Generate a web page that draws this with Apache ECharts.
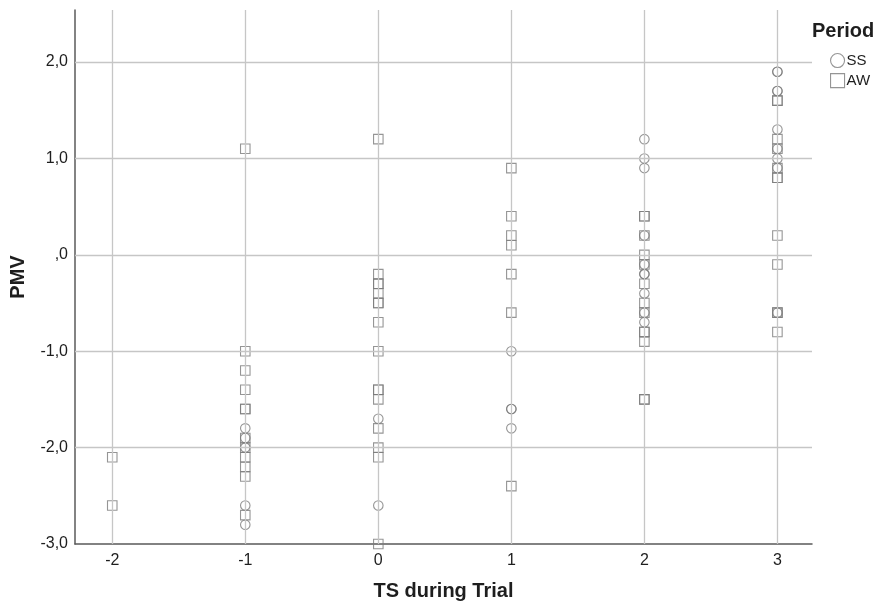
<!DOCTYPE html>
<html>
<head>
<meta charset="utf-8">
<script src="https://cdn.jsdelivr.net/npm/echarts@6/dist/echarts.min.js"></script>
<style>
  html, body { margin: 0; padding: 0; background: #fff; }
  #chart { width: 886px; height: 604px; }
</style>
</head>
<body>
<div id="chart"></div>
<script>
// Thermal sensation (TS) vs predicted mean vote (PMV), per period
const ssTS  = [-1, -1, -1, -1, -1,  0, 0,  1, 1, 1, 1,
               2, 2, 2, 2, 2, 2, 2, 2, 2, 2,
               3, 3, 3, 3, 3, 3, 3, 3, 3];
const ssPMV = [-1.8, -1.9, -2.0, -2.6, -2.8,  -1.7, -2.6,  -1.0, -1.6, -1.6, -1.8,
               1.2, 1.0, 0.9, 0.2, -0.1, -0.2, -0.2, -0.4, -0.6, -0.7,
               1.9, 1.9, 1.7, 1.7, 1.3, 1.1, 1.0, 0.9, -0.6];

const awTS  = [-2, -2,
               -1, -1, -1, -1, -1, -1, -1, -1, -1, -1, -1, -1,
               0, 0, 0, 0, 0, 0, 0, 0, 0, 0, 0, 0, 0, 0, 0, 0,
               1, 1, 1, 1, 1, 1, 1,
               2, 2, 2, 2, 2, 2, 2, 2, 2, 2, 2, 2, 2,
               3, 3, 3, 3, 3, 3, 3, 3, 3, 3, 3, 3];
const awPMV = [-2.1, -2.6,
               1.1, -1.0, -1.2, -1.4, -1.6, -1.6, -1.9, -2.0, -2.1, -2.2, -2.3, -2.7,
               1.2, -0.2, -0.3, -0.3, -0.4, -0.5, -0.5, -0.7, -1.0, -1.4, -1.4, -1.5, -1.8, -2.0, -2.1, -3.0,
               0.9, 0.4, 0.2, 0.1, -0.2, -0.6, -2.4,
               0.4, 0.4, 0.2, 0.0, -0.1, -0.3, -0.5, -0.6, -0.8, -0.8, -0.9, -1.5, -1.5,
               1.6, 1.6, 1.2, 1.1, 0.9, 0.8, 0.8, 0.2, -0.1, -0.6, -0.6, -0.8];

const xTicks = [-2, -1, 0, 1, 2, 3];
const yTicks = [-3, -2, -1, 0, 1, 2];
const periods = ['SS', 'AW'];

const FONT = '"Liberation Sans", Arial, sans-serif';
const MARK = '#7a7a7a';
const GRID = '#c6c6c6';
const TEXT = '#1e1e1e';

const pairs = (xs, ys) => xs.map((x, i) => [x, ys[i]]);

// decimal comma, leading zero dropped for 0
function fmtY(v) {
  if (v === 0) return ',0';
  return v.toFixed(1).replace('.', ',');
}

// grid lines drawn at the integer ticks only
const gridLines = xTicks.map(v => ({ xAxis: v }))
  .concat(yTicks.filter(v => v !== yTicks[0]).map(v => ({ yAxis: v })));

const hollow = { color: 'rgba(255,255,255,0)', borderColor: MARK, borderWidth: 1.1 };

const chart = echarts.init(document.getElementById('chart'), null, { renderer: 'canvas' });
chart.setOption({
  animation: false,
  backgroundColor: '#fff',
  title: {
    text: 'Period', left: 812, top: 21, padding: 0,
    textStyle: { fontFamily: FONT, fontSize: 20, fontWeight: 'bold', color: TEXT }
  },
  legend: {
    orient: 'vertical', left: 830, top: 53, padding: 0, itemGap: 5,
    itemWidth: 14, itemHeight: 14,
    data: [
      { name: periods[0], icon: 'circle', itemStyle: hollow },
      { name: periods[1], icon: 'rect', itemStyle: hollow }
    ],
    textStyle: { fontFamily: FONT, fontSize: 15, color: TEXT, padding: [0, 0, 0, -3] }
  },
  grid: { left: 75, right: 74, top: 10, bottom: 60, outerBoundsMode: 'none', containLabel: false },
  xAxis: {
    type: 'value', min: -2.28, max: 3.26,
    name: 'TS during Trial', nameLocation: 'middle', nameGap: 37,
    nameTextStyle: { fontFamily: FONT, fontSize: 20, fontWeight: 'bold', color: TEXT },
    axisLine: { show: true, onZero: false, lineStyle: { color: '#5a5a5a', width: 1.5 } },
    axisTick: { show: false },
    splitLine: { show: false },
    axisLabel: {
      fontFamily: FONT, fontSize: 16, color: TEXT, margin: 9,
      customValues: xTicks,
      formatter: v => String(v)
    }
  },
  yAxis: {
    type: 'value', min: -3, max: 2.54,
    name: 'PMV', nameLocation: 'middle', nameGap: 47,
    nameTextStyle: { fontFamily: FONT, fontSize: 20, fontWeight: 'bold', color: TEXT },
    axisLine: { show: true, onZero: false, lineStyle: { color: '#5a5a5a', width: 1.5 } },
    axisTick: { show: false },
    splitLine: { show: false },
    axisLabel: {
      fontFamily: FONT, fontSize: 16, color: TEXT, margin: 7,
      customValues: yTicks,
      formatter: fmtY
    }
  },
  series: [
    {
      name: periods[0], type: 'scatter', symbol: 'circle', symbolSize: 9.5,
      data: pairs(ssTS, ssPMV), itemStyle: hollow, z: 3,
      markLine: {
        silent: true, symbol: 'none', animation: false,
        label: { show: false },
        lineStyle: { color: GRID, type: 'solid', width: 1.3 },
        data: gridLines
      }
    },
    {
      name: periods[1], type: 'scatter', symbol: 'rect', symbolSize: 9.5,
      data: pairs(awTS, awPMV), itemStyle: hollow, z: 3, clip: false
    }
  ]
});
</script>
</body>
</html>
